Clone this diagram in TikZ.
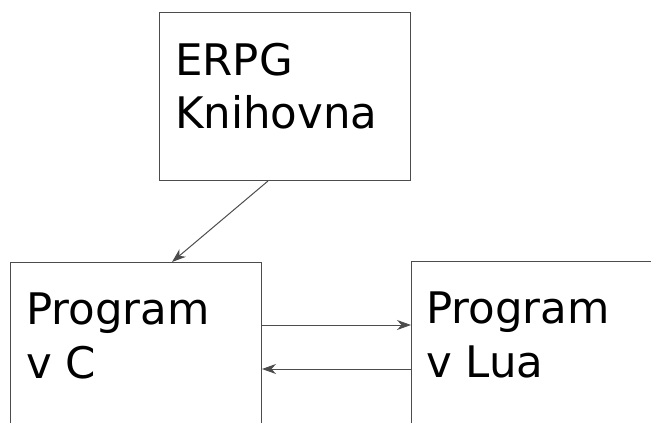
\documentclass[tikz,border=0pt]{standalone}
\usepackage{fontspec}
\setmainfont{DejaVu Sans}
\usetikzlibrary{arrows.meta,calc}
\tikzset{
  box/.style={draw=black!70,line width=1pt,rectangle,inner sep=0pt,anchor=north west},
  lbl/.style={anchor=north west,inner sep=0pt,align=left,font=\fontsize{43.5}{53.5}\selectfont},
  link/.style={draw=black!70,line width=1pt,-{Stealth[length=14pt,width=10pt,inset=4.5pt]}}
}
\begin{document}
\begin{tikzpicture}[x=1pt,y=-1pt]
\useasboundingbox (0,0) rectangle (651,423);
\clip (0,0) rectangle (651,423);
\node[box,minimum width=251pt,minimum height=168pt] (lib) at (159,12) {};
\node[box,minimum width=251pt,minimum height=220pt] (cprog) at (10,262) {};
\node[box,minimum width=260pt,minimum height=220pt] (luaprog) at (411,261) {};
\node[lbl] (libtxt) at (175,43) {ERPG\\Knihovna};
\node[lbl] (ctxt) at (26,293) {Program\\v C};
\node[lbl] (luatxt) at (426,292) {Program\\v Lua};
% arrows
\draw[link] ($(lib.south west)+(109,0)$) -- ($(cprog.north west)+(162,0)$);
\draw[link] ($(cprog.north east)+(0,63)$) -- ($(luaprog.north west)+(0,64)$);
\draw[link] ($(luaprog.north west)+(0,108)$) -- ($(cprog.north east)+(0,107)$);
\end{tikzpicture}
\end{document}
